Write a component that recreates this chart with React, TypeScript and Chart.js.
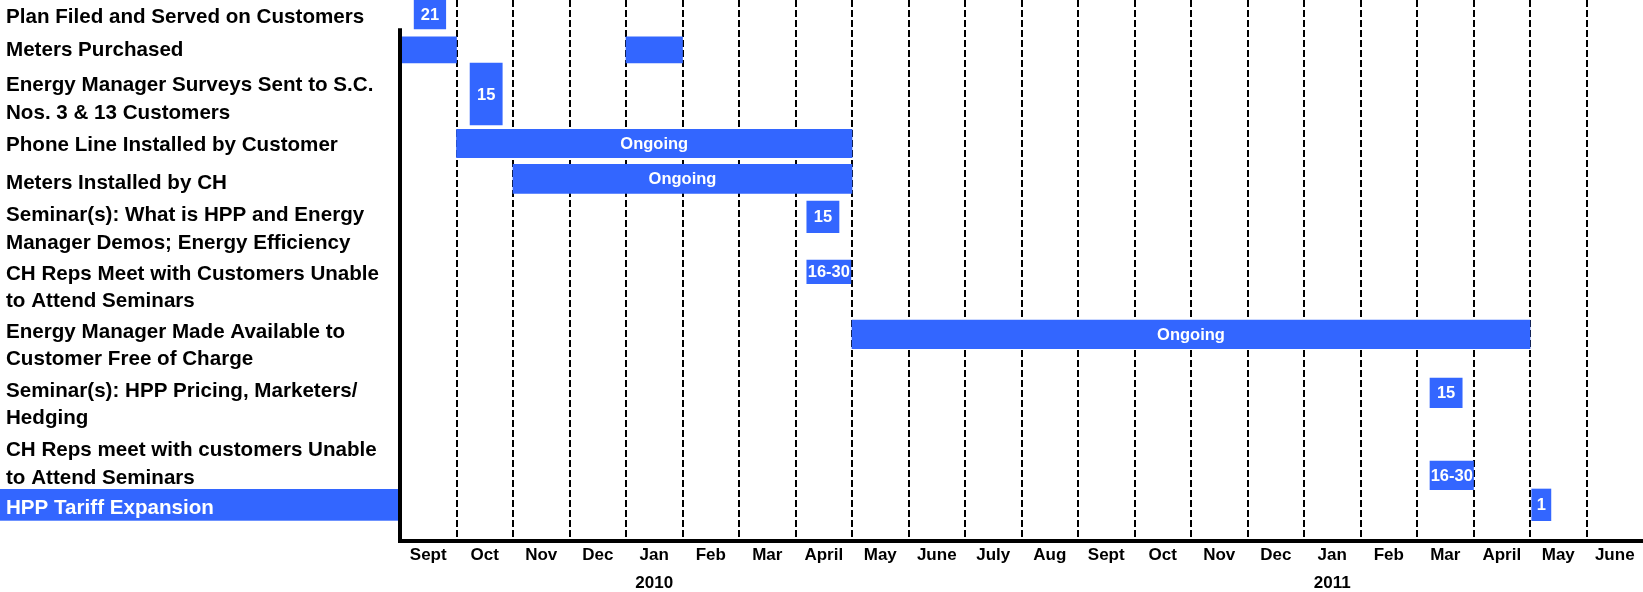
import React, { useEffect, useRef } from "react";
import { Chart, registerables } from "chart.js";

Chart.register(...registerables);

// ---------- data ----------
const TASKS: (string | string[])[] = [
  "Plan Filed and Served on Customers",
  "Meters Purchased",
  ["Energy Manager Surveys Sent to S.C.", "Nos. 3 & 13 Customers"],
  "Phone Line Installed by Customer",
  "Meters Installed by CH",
  ["Seminar(s): What is HPP and Energy", "Manager Demos; Energy Efficiency"],
  ["CH Reps Meet with Customers Unable", "to Attend Seminars"],
  ["Energy Manager Made Available to", "Customer Free of Charge"],
  ["Seminar(s): HPP Pricing, Marketers/", "Hedging"],
  ["CH Reps meet with customers Unable", "to Attend Seminars"],
  "HPP Tariff Expansion",
];

const MONTHS = [
  "Sept", "Oct", "Nov", "Dec", "Jan", "Feb", "Mar", "April", "May", "June", "July",
  "Aug", "Sept", "Oct", "Nov", "Dec", "Jan", "Feb", "Mar", "April", "May", "June",
];
const YEARS = ["2010", "2011"];
const YEAR_MONTH_INDEX = [4, 16]; // the "Jan" column of each year

// spans in months counted from the start of Sept 2009
const TASK_SPANS: number[][][] = [
  [[0.25, 0.81]],
  [[0, 1], [4, 5]],
  [[1.24, 1.81]],
  [[1, 8]],
  [[2, 8]],
  [[7.2, 7.77]],
  [[7.2, 7.98]],
  [[8, 20]],
  [[18.23, 18.8]],
  [[18.23, 19.0]],
  [[20.03, 20.37]],
];
const TASK_TEXT = ["21", "", "15", "Ongoing", "Ongoing", "15", "16-30", "Ongoing", "15", "16-30", "1"];

// ---------- layout ----------
const ROW_SLOTS = 11;
const ROW_BAR_POS = [0.295, 1.014, 1.911, 2.918, 3.636, 4.409, 5.528, 6.798, 7.988, 9.666, 10.265];
const ROW_LABEL_POS = [0.356, 1.031, 2.019, 2.948, 3.736, 4.662, 5.85, 7.029, 8.235, 9.439, 10.334];
const BAR_THICKNESS = [29, 26, 62, 28.5, 29, 31.7, 23.7, 28.7, 29.7, 28.7, 31.7];
const AXIS_TOP = 0.575;
const HIGHLIGHT_ROW = 10;

const BLUE = "#3366ff";
const FAMILY = "'Liberation Sans', Arial, Helvetica, sans-serif";

const barTextPlugin = {
  id: "barText",
  afterDatasetsDraw(chart: any) {
    const ctx = chart.ctx;
    ctx.save();
    ctx.font = `bold 16.5px ${FAMILY}`;
    ctx.fillStyle = "#ffffff";
    ctx.textAlign = "center";
    ctx.textBaseline = "middle";
    chart.data.datasets.forEach((ds: any, di: number) => {
      if (!ds.barText) return;
      const meta = chart.getDatasetMeta(di);
      meta.data.forEach((el: any) => {
        const p = el.getCenterPoint();
        ctx.fillText(ds.barText, p.x, p.y + 1);
      });
    });
    ctx.restore();
  },
};

// blue band behind the highlighted task label
const rowHighlightPlugin = {
  id: "rowHighlight",
  beforeDraw(chart: any) {
    const y = chart.scales.y;
    const ctx = chart.ctx;
    const c = y.getPixelForValue(ROW_BAR_POS[HIGHLIGHT_ROW]);
    const t = BAR_THICKNESS[HIGHLIGHT_ROW];
    ctx.save();
    ctx.fillStyle = BLUE;
    ctx.fillRect(0, c - t / 2, chart.chartArea.left, t);
    ctx.restore();
  },
};

export default function App() {
  const ref = useRef<HTMLCanvasElement>(null);

  useEffect(() => {
    document.body.style.margin = "0";
    document.body.style.overflow = "hidden";
    const canvas = ref.current;
    if (!canvas) return;

    const barSets = TASK_SPANS.map((spans, i) => ({
      type: "bar" as const,
      indexAxis: "y" as const,
      xAxisID: "x",
      yAxisID: "y",
      stack: "g",
      order: 1,
      barThickness: BAR_THICKNESS[i],
      backgroundColor: BLUE,
      borderWidth: 0,
      barText: TASK_TEXT[i],
      data: spans.map((s) => ({ x: s, y: ROW_BAR_POS[i] })),
    }));

    const axisLine = {
      type: "line" as const,
      xAxisID: "x",
      yAxisID: "y",
      order: 0,
      clip: false,
      borderColor: "#000",
      borderWidth: 4,
      pointRadius: 0,
      data: [
        { x: 0, y: AXIS_TOP },
        { x: 0, y: ROW_SLOTS },
      ],
    };

    const chart = new Chart(canvas, {
      type: "bar",
      data: { datasets: [...barSets, axisLine] as any },
      options: {
        responsive: false,
        animation: false,
        layout: { autoPadding: false, padding: { left: 6, right: 0, top: 0, bottom: 0 } },
        plugins: { legend: { display: false }, tooltip: { enabled: false } },
        scales: {
          x: {
            type: "linear",
            position: "bottom",
            min: 0,
            max: MONTHS.length,
            offset: false,
            stacked: false,
            grid: {
              display: true,
              offset: true,
              drawTicks: false,
              lineWidth: 2,
              color: (c: any) => (c.type === "tick" && c.index > 0 ? "#000" : "rgba(0,0,0,0)"),
            },
            border: { display: true, color: "#000", width: 4, dash: [7, 3] },
            ticks: {
              autoSkip: false,
              maxRotation: 0,
              minRotation: 0,
              padding: 4.5,
              color: "#000",
              font: { family: FAMILY, size: 17, weight: "bold", lineHeight: 1.2 },
              callback: (_v: any, i: number) => MONTHS[i],
            },
            afterBuildTicks: (s: any) => {
              s.ticks = MONTHS.map((_, i) => ({ value: i + 0.5 }));
            },
            afterFit: (s: any) => {
              s.height = 24;
              s.paddingLeft = 0;
              s.paddingRight = 0;
            },
          } as any,
          x2: {
            type: "linear",
            axis: "x",
            position: "bottom",
            weight: 1,
            min: 0,
            max: MONTHS.length,
            offset: false,
            grid: { display: false, drawTicks: false },
            border: { display: false },
            ticks: {
              autoSkip: false,
              maxRotation: 0,
              minRotation: 0,
              padding: 8.5,
              color: "#000",
              font: { family: FAMILY, size: 17, weight: "bold", lineHeight: 1.2 },
              callback: (_v: any, i: number) => YEARS[i],
            },
            afterBuildTicks: (s: any) => {
              s.ticks = YEAR_MONTH_INDEX.map((mi) => ({ value: mi + 0.5 }));
            },
            afterFit: (s: any) => {
              s.height = 27;
              s.paddingLeft = 0;
              s.paddingRight = 0;
            },
          } as any,
          y: {
            type: "linear",
            reverse: true,
            min: 0,
            max: ROW_SLOTS,
            offset: false,
            grid: { display: false, drawTicks: false },
            border: { display: false },
            ticks: {
              autoSkip: false,
              crossAlign: "far",
              color: (c: any) => (c.index === HIGHLIGHT_ROW ? "#ffffff" : "#000000"),
              font: { family: FAMILY, size: 20.6, weight: "bold", lineHeight: 1.335 },
              callback: (_v: any, i: number) => TASKS[i],
            },
            afterBuildTicks: (s: any) => {
              s.ticks = ROW_LABEL_POS.map((v) => ({ value: v }));
            },
            afterFit: (s: any) => {
              s.width = 394;
              s.paddingTop = 0;
              s.paddingBottom = 0;
            },
          } as any,
        },
      },
      plugins: [rowHighlightPlugin, barTextPlugin],
    });

    return () => chart.destroy();
  }, []);

  return (
    <canvas
      ref={ref}
      width={1643}
      height={592}
      style={{ display: "block", width: 1643, height: 592 }}
    />
  );
}
